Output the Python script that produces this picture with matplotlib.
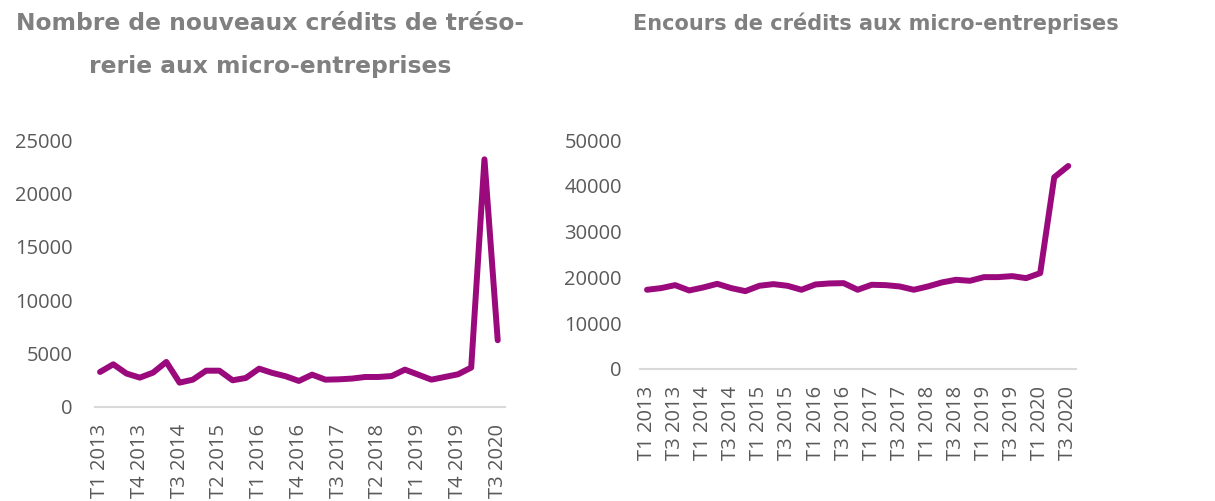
import matplotlib.pyplot as plt
import numpy as np

# quarters T1 2013 .. T3 2020
quarters = [f"T{q} {y}" for y in range(2013, 2021) for q in range(1, 5)][:31]

nouveaux_credits = [3280, 4000, 3130, 2750, 3220, 4220, 2280, 2560, 3400, 3400,
                    2500, 2720, 3590, 3190, 2880, 2440, 3030, 2560, 2590, 2660,
                    2810, 2810, 2900, 3500, 3030, 2560, 2810, 3060, 3690, 23190,
                    6250]

encours = [17300, 17660, 18310, 17150, 17800, 18600, 17660, 17000, 18170, 18530,
           18170, 17300, 18460, 18680, 18750, 17300, 18390, 18310, 18020, 17300,
           18020, 18900, 19480, 19260, 20060, 20060, 20280, 19840, 20930, 41860,
           44330]

title_left = "Nombre de nouveaux crédits de tréso-\nrerie aux micro-entreprises"
title_right = "Encours de crédits aux micro-entreprises"

line_color = "#9B0A7D"
text_color = "#595959"
title_color = "#808080"

W, H = 1215, 501
fig = plt.figure(figsize=(W / 100, H / 100), dpi=100)

def setup(ax, data, ymax, step, every, xlim, ypad, xpad):
    x = np.arange(len(data))
    ax.plot(x, data, color=line_color, lw=4.3, solid_joinstyle="round",
            solid_capstyle="round")
    ax.set_ylim(0, ymax)
    ax.set_yticks(np.arange(0, ymax + 1, step))
    ax.set_xlim(*xlim)
    ax.set_xticks(x[::every])
    ax.set_xticklabels(quarters[::every], rotation=90)
    for s in ["top", "right", "left"]:
        ax.spines[s].set_visible(False)
    ax.spines["bottom"].set_color("#d9d9d9")
    ax.spines["bottom"].set_linewidth(1.5)
    ax.tick_params(axis="y", length=0, pad=ypad, labelsize=14.5, labelcolor=text_color)
    ax.tick_params(axis="x", length=0, pad=xpad, labelsize=14.5, labelcolor=text_color)
    for lab in ax.get_xticklabels() + ax.get_yticklabels():
        lab.set_family("Open Sans")

ax1 = fig.add_axes([95 / W, 1 - 407 / H, 410 / W, 267 / H])
setup(ax1, nouveaux_credits, 25000, 5000, 3, (-0.38, 30.55), 16, 12)

ax2 = fig.add_axes([640 / W, 1 - 369 / H, 436 / W, 229 / H])
setup(ax2, encours, 50000, 10000, 2, (-0.5, 30.55), 13, 12)

fig.text(270 / W, 1 - 45 / H, title_left, ha="center", va="center",
         fontsize=16.8, fontweight="bold", color=title_color, linespacing=2.15)
fig.text(876 / W, 1 - 23 / H, title_right, ha="center", va="center",
         fontsize=15, fontweight="bold", color=title_color)

fig.savefig("out.png", dpi=100)
